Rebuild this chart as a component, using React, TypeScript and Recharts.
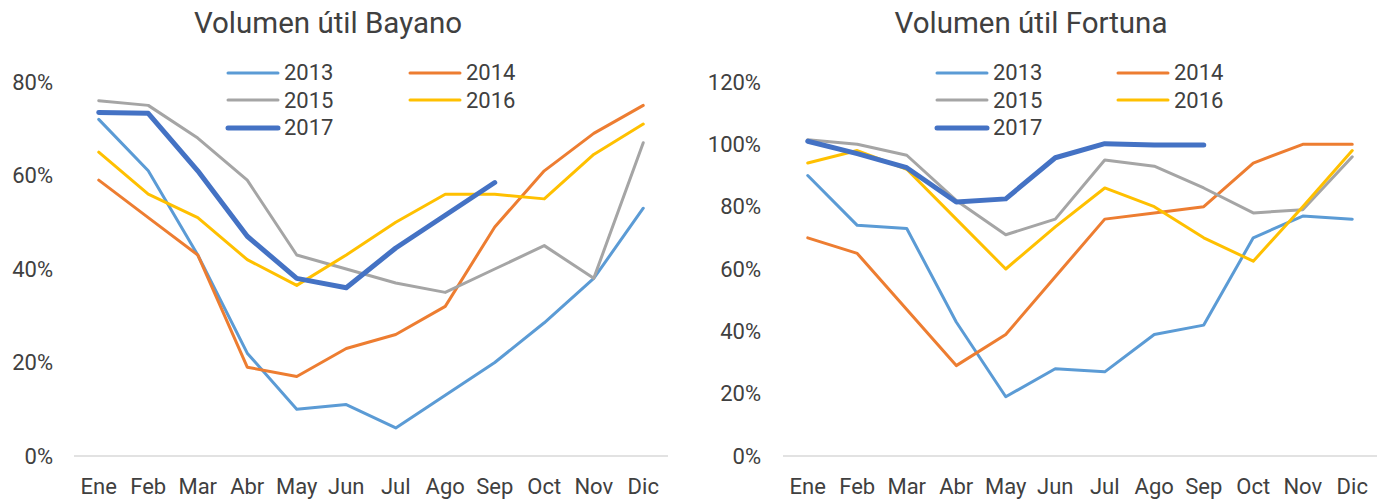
import { LineChart, Line, XAxis, YAxis } from "recharts";

const MONTHS = ["Ene", "Feb", "Mar", "Abr", "May", "Jun", "Jul", "Ago", "Sep", "Oct", "Nov", "Dic"];
const YEARS = ["2013", "2014", "2015", "2016", "2017"];

// Bayano, % of useful volume
const BAYANO_2013 = [72, 61, 43, 22, 10, 11, 6, 13, 20, 28.5, 38, 53];
const BAYANO_2014 = [59, 51, 43, 19, 17, 23, 26, 32, 49, 61, 69, 75];
const BAYANO_2015 = [76, 75, 68, 59, 43, 40, 37, 35, 40, 45, 38, 67];
const BAYANO_2016 = [65, 56, 51, 42, 36.5, 43, 50, 56, 56, 55, 64.5, 71];
const BAYANO_2017 = [73.5, 73.3, 61, 47, 38, 36, 44.5, 51.5, 58.5, null, null, null];

// Fortuna, % of useful volume
const FORTUNA_2013 = [90, 74, 73, 43, 19, 28, 27, 39, 42, 70, 77, 76];
const FORTUNA_2014 = [70, 65, 47, 29, 39, 57.5, 76, 78, 80, 94, 100, 100];
const FORTUNA_2015 = [101.5, 100, 96.5, 82, 71, 76, 95, 93, 86, 78, 79, 96];
const FORTUNA_2016 = [94, 98, 92, 76, 60, 73.5, 86, 80, 70, 62.5, 80, 98];
const FORTUNA_2017 = [101, 97, 92.5, 81.5, 82.5, 95.7, 100.2, 99.8, 99.8, null, null, null];

const BAYANO_TICKS = [0, 20, 40, 60, 80];
const FORTUNA_TICKS = [0, 20, 40, 60, 80, 100, 120];

const COLORS = ["#5B9BD5", "#ED7D31", "#A5A5A5", "#FFC000", "#4472C4"];
const WIDTHS = [3, 3, 3, 3, 5];
const TEXT = "#404040";
const FONT = "Roboto, 'Liberation Sans', sans-serif";

function toRows(series: (number | null)[][]) {
  return MONTHS.map((m, i) => {
    const row: Record<string, any> = { m };
    YEARS.forEach((y, k) => (row[y] = series[k][i]));
    return row;
  });
}

const bayanoRows = toRows([BAYANO_2013, BAYANO_2014, BAYANO_2015, BAYANO_2016, BAYANO_2017]);
const fortunaRows = toRows([FORTUNA_2013, FORTUNA_2014, FORTUNA_2015, FORTUNA_2016, FORTUNA_2017]);

// legend in two columns, drawn over the chart like Excel does
function LegendBox({ left, colWidth }: { left: number; colWidth: number }) {
  return (
    <div
      style={{
        position: "absolute",
        left,
        top: 59,
        display: "grid",
        gridTemplateColumns: `${colWidth}px ${colWidth}px`,
        fontFamily: FONT,
      }}
    >
      {YEARS.map((y, i) => (
        <div key={y} style={{ display: "flex", alignItems: "center", height: 27.5 }}>
          <svg width={56} height={10} style={{ marginRight: 3 }}>
            <line x1={3} x2={53} y1={5} y2={5} stroke={COLORS[i]} strokeWidth={WIDTHS[i]} strokeLinecap="round" />
          </svg>
          <span style={{ fontSize: 22, color: TEXT }}>{y}</span>
        </div>
      ))}
    </div>
  );
}

function Panel({ rows, ticks, max, yWidth, right, labelGap }: any) {
  return (
    <LineChart width={692} height={500} data={rows} margin={{ top: 82, right, bottom: 0, left: 0 }}>
      <XAxis
        dataKey="m"
        height={44}
        interval={0}
        padding={{ left: 24.75, right: 24.75 }}
        axisLine={{ stroke: "#D9D9D9", strokeWidth: 1.5 }}
        tickLine={false}
        tickSize={0}
        tickMargin={22}
        tick={{ fill: TEXT, fontSize: 22, fontFamily: FONT }}
      />
      <YAxis
        width={yWidth}
        domain={[0, max]}
        ticks={ticks}
        axisLine={false}
        tickLine={false}
        tickSize={0}
        tickMargin={labelGap}
        tickFormatter={(v: any) => `${v}%`}
        tick={{ fill: TEXT, fontSize: 22, fontFamily: FONT }}
      />
      {YEARS.map((y, i) => (
        <Line
          key={y}
          type="linear"
          dataKey={y}
          stroke={COLORS[i]}
          strokeWidth={WIDTHS[i]}
          strokeLinejoin="round"
          strokeLinecap="round"
          dot={false}
          activeDot={false}
          isAnimationActive={false}
        />
      ))}
    </LineChart>
  );
}

export default function App() {
  return (
    <div style={{ position: "absolute", left: 0, top: 0, width: 1384, height: 500, background: "#fff", fontFamily: FONT }}>
      <div style={{ position: "absolute", left: 0, top: 0 }}>
        <Panel rows={bayanoRows} ticks={BAYANO_TICKS} max={80} yWidth={74} right={24} labelGap={21} />
      </div>
      <div style={{ position: "absolute", left: 692, top: 0 }}>
        <Panel rows={fortunaRows} ticks={FORTUNA_TICKS} max={120} yWidth={91} right={7} labelGap={22} />
      </div>
      <LegendBox left={225} colWidth={182} />
      <LegendBox left={934} colWidth={181} />
      <svg width={1384} height={60} style={{ position: "absolute", left: 0, top: 0, pointerEvents: "none" }}>
        <text x={328} y={33} textAnchor="middle" fontSize={29.5} fill={TEXT} fontFamily={FONT}>Volumen útil Bayano</text>
        <text x={1031} y={33} textAnchor="middle" fontSize={29.5} fill={TEXT} fontFamily={FONT}>Volumen útil Fortuna</text>
      </svg>
    </div>
  );
}
